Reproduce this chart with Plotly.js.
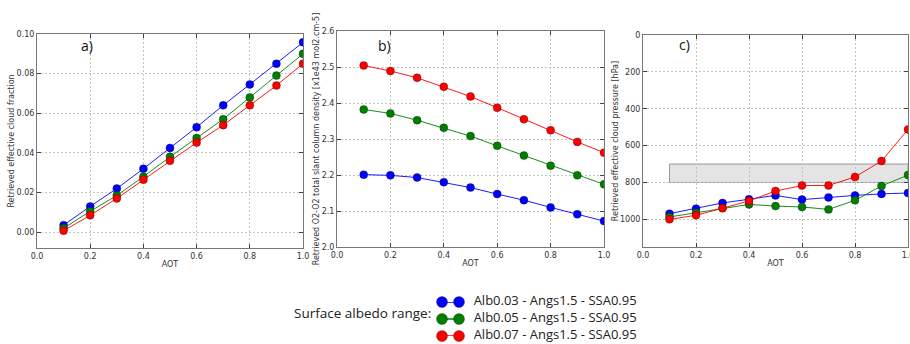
<!DOCTYPE html>
<html><head><meta charset="utf-8">
<script src="https://cdn.plot.ly/plotly-3.0.1.min.js"></script>
<style>body{margin:0;padding:0;background:#fff}#chart{width:910px;height:344px}</style>
</head><body><div id="chart"></div>
<script>
const aot = [0.1,0.2,0.3,0.4,0.5,0.6,0.7,0.8,0.9,1.0];
const seriesNames = ['Alb0.03 - Angs1.5 - SSA0.95','Alb0.05 - Angs1.5 - SSA0.95','Alb0.07 - Angs1.5 - SSA0.95'];
const seriesColors = ['#0000ff','#007f00','#ff0000'];
const legendTitle = 'Surface albedo range:';
// panel a: retrieved effective cloud fraction
const cfAlb003 = [0.0035,0.013,0.022,0.032,0.0425,0.053,0.064,0.0745,0.085,0.0958];
const cfAlb005 = [0.002,0.0105,0.0185,0.028,0.038,0.0475,0.057,0.068,0.079,0.090];
const cfAlb007 = [0.0007,0.0085,0.017,0.0265,0.036,0.0452,0.054,0.064,0.074,0.085];
// panel b: O2-O2 total slant column density
const scdAlb003 = [2.201,2.199,2.193,2.180,2.165,2.147,2.130,2.110,2.091,2.072];
const scdAlb005 = [2.382,2.371,2.352,2.331,2.308,2.281,2.254,2.226,2.199,2.174];
const scdAlb007 = [2.504,2.489,2.470,2.445,2.418,2.387,2.355,2.324,2.292,2.262];
// panel c: retrieved effective cloud pressure
const cpAlb003 = [969,942,911,891,870,893,881,870,862,857];
const cpAlb005 = [987,964,938,919,928,933,946,897,819,760];
const cpAlb007 = [1000,978,940,900,846,817,816,770,684,512];
const bandAOT = [0.1,1.0];
const bandPressure = [700,800];

const font = 'DejaVu Sans, sans-serif';
const lfont = 'Open Sans, sans-serif';
function tr(x,y,i,xa,ya){
  return {x:x,y:y,xaxis:xa,yaxis:ya,type:'scatter',mode:'lines+markers',name:seriesNames[i],
    showlegend:false,hoverinfo:'skip',
    line:{color:seriesColors[i],width:0.9},
    marker:{color:seriesColors[i],size:8,line:{color:'#000',width:0.3}}};
}
const data = [
  tr(aot,cfAlb003,0,'x','y'),tr(aot,cfAlb005,1,'x','y'),tr(aot,cfAlb007,2,'x','y'),
  tr(aot,scdAlb003,0,'x2','y2'),tr(aot,scdAlb005,1,'x2','y2'),tr(aot,scdAlb007,2,'x2','y2'),
  tr(aot,cpAlb003,0,'x3','y3'),tr(aot,cpAlb005,1,'x3','y3'),tr(aot,cpAlb007,2,'x3','y3')
];
// legend glyphs (two markers joined by a line) drawn on a hidden helper axis
seriesNames.forEach(function(nm,i){
  data.push({x:[0,1],y:[i,i],xaxis:'x4',yaxis:'y4',type:'scatter',mode:'lines+markers+text',
    text:['','  '+nm],textposition:'middle right',cliponaxis:false,showlegend:false,hoverinfo:'skip',
    textfont:{family:lfont,size:13,color:'#222'},
    line:{color:seriesColors[i],width:1.5},
    marker:{color:seriesColors[i],size:11,line:{color:'#000',width:0.3}}});
});
function xax(dom,anchor){
  return {domain:dom,anchor:anchor,range:[0,1],tickvals:[0,0.2,0.4,0.6,0.8,1.0],tickformat:'.1f',
    showline:true,mirror:'ticks',linecolor:'#777',linewidth:1,ticks:'inside',ticklen:4,tickcolor:'#444',
    showgrid:true,gridcolor:'#c4c4c4',griddash:'2px,2px',gridwidth:1,zeroline:false,
    ticklabeloverflow:'allow',
    tickfont:{family:font,size:8,color:'#333'},
    title:{text:'AOT',font:{family:font,size:8,color:'#333'},standoff:1}};
}
function yax(dom,anchor,range,tickvals,fmt,title){
  return {domain:dom,anchor:anchor,range:range,tickvals:tickvals,tickformat:fmt,
    showline:true,mirror:'ticks',linecolor:'#777',linewidth:1,ticks:'inside',ticklen:4,tickcolor:'#444',
    showgrid:true,gridcolor:'#c4c4c4',griddash:'2px,2px',gridwidth:1,zeroline:false,
    tickfont:{family:font,size:8,color:'#333'},
    title:{text:title,font:{family:font,size:8,color:'#333'},standoff:0}};
}
const layout = {
  width:910,height:344,margin:{l:0,r:0,t:0,b:0,autoexpand:false},paper_bgcolor:'#fff',plot_bgcolor:'#fff',
  font:{family:font},showlegend:false,
  xaxis:xax([37/910,303/910],'y'),
  yaxis:yax([1-248/344,1-34/344],'x',[-0.008,0.1],[0,0.02,0.04,0.06,0.08,0.1],'.2f','Retrieved effective cloud fraction'),
  xaxis2:xax([337/910,604/910],'y2'),
  yaxis2:yax([1-247/344,1-31/344],'x2',[2.0,2.6],[2.0,2.1,2.2,2.3,2.4,2.5,2.6],'.1f','Retrieved O2-O2 total slant column density [x1e43 mol2.cm-5]'),
  xaxis3:xax([643/910,908/910],'y3'),
  yaxis3:yax([1-247/344,1-35/344],'x3',[1150,0],[0,200,400,600,800,1000],'d','Retrieved effective cloud pressure [hPa]'),
  xaxis4:{domain:[442/910,459/910],anchor:'y4',range:[0,1],visible:false,fixedrange:true},
  yaxis4:{domain:[1-336/344,1-302/344],anchor:'x4',range:[2,0],visible:false,fixedrange:true},
  shapes:[{type:'rect',xref:'x3',yref:'y3',x0:bandAOT[0],x1:bandAOT[1],y0:bandPressure[0],y1:bandPressure[1],
    fillcolor:'#e4e4e4',line:{color:'#999',width:1},layer:'below'}],
  annotations:[
    {text:'a)',xref:'paper',yref:'paper',x:79/910,y:1-45/344,xanchor:'left',yanchor:'middle',showarrow:false,font:{family:lfont,size:14,color:'#111'}},
    {text:'b)',xref:'paper',yref:'paper',x:376/910,y:1-45/344,xanchor:'left',yanchor:'middle',showarrow:false,font:{family:lfont,size:14,color:'#111'}},
    {text:'c)',xref:'paper',yref:'paper',x:677/910,y:1-44/344,xanchor:'left',yanchor:'middle',showarrow:false,font:{family:lfont,size:14,color:'#111'}},
    {text:legendTitle,xref:'paper',yref:'paper',x:292/910,y:1-313/344,xanchor:'left',yanchor:'middle',showarrow:false,font:{family:lfont,size:13.5,color:'#222'}}
  ]
};
Plotly.newPlot('chart',data,layout,{staticPlot:true});
</script></body></html>
